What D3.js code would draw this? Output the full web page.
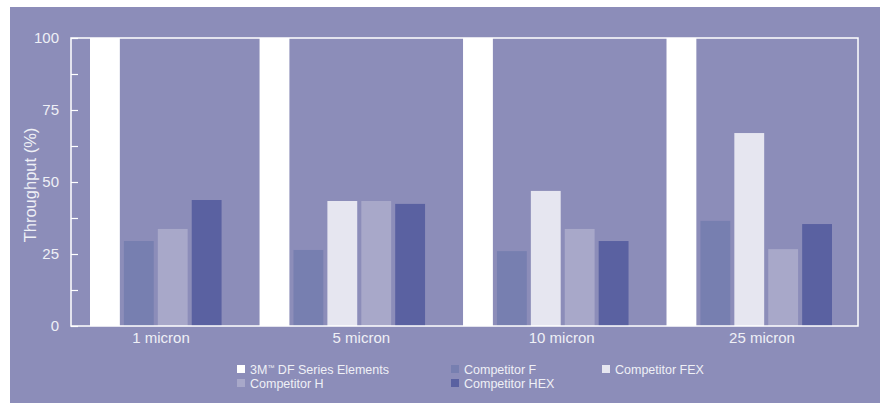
<!DOCTYPE html>
<html>
<head>
<meta charset="utf-8">
<script src="https://cdn.jsdelivr.net/npm/d3@7"></script>
<style>
    body { margin: 0; background: #fff; }
    text { font-family: "Liberation Sans", Arial, sans-serif; fill: #eff0f6; }
</style>
</head>
<body>
<div id="chart"></div>
<script>
// chart data
const groups = ["1 micron", "5 micron", "10 micron", "25 micron"];
const seriesNames = ["3M\u2122 DF Series Elements", "Competitor F", "Competitor FEX", "Competitor H", "Competitor HEX"];
const dfValues = [100, 100, 100, 100];
const fValues = [29.5, 26.4, 26.0, 36.5];
const fexValues = [null, 43.4, 46.9, 67.0];   // no FEX bar at 1 micron
const hValues = [33.7, 43.4, 33.7, 26.7];
const hexValues = [43.75, 42.4, 29.5, 35.4];
const yTicks = [0, 25, 50, 75, 100];

const seriesColors = ["#ffffff", "#777fb0", "#e6e6f0", "#a8a8c9", "#5a61a1"];
const seriesValues = [dfValues, fValues, fexValues, hValues, hexValues];

const W = 882, H = 403;
const plot = { left: 71, right: 858, top: 38, bottom: 326 };

const svg = d3.select("#chart").append("svg")
    .attr("width", W)
    .attr("height", H);

// background panel
svg.append("rect")
    .attr("x", 10).attr("y", 7)
    .attr("width", 870).attr("height", H - 7)
    .attr("fill", "#8c8db9");

// flatten bars, one spacer slot between groups
var bars = [];
var keys = [];
groups.forEach((g, gi) => {
    if (gi > 0) keys.push("gap" + gi);
    seriesValues.forEach((vals, si) => {
        if (vals[gi] == null) return;
        var k = g + "|" + si;
        keys.push(k);
        bars.push({ key: k, group: g, series: si, value: vals[gi] });
    });
});

var x = d3.scaleBand()
    .domain(keys)
    .range([90, 832])
    .paddingInner(0.12);

var y = d3.scaleLinear()
    .domain([0, 100])
    .range([plot.bottom, plot.top]);

// group label positions
var xLabel = d3.scalePoint()
    .domain(groups)
    .range([161, 762]);

svg.append("g").selectAll("rect")
    .data(bars)
    .join("rect")
    .attr("x", d => x(d.key))
    .attr("width", x.bandwidth())
    .attr("y", d => y(d.value))
    .attr("height", d => y(0) - y(d.value))
    .attr("fill", d => seriesColors[d.series]);

// frame
svg.append("rect")
    .attr("x", plot.left).attr("y", plot.top)
    .attr("width", plot.right - plot.left)
    .attr("height", plot.bottom - plot.top)
    .attr("fill", "none")
    .attr("stroke", "#ffffff")
    .attr("stroke-width", 1.5);

// y axis, minor ticks between labels
var minor = d3.range(0, 101, 12.5);
var yAxis = svg.append("g")
    .attr("transform", "translate(" + plot.left + ",0)")
    .call(d3.axisLeft(y)
        .tickValues(minor)
        .tickSize(-7)
        .tickPadding(12)
        .tickFormat(d => yTicks.includes(d) ? d : ""));
yAxis.select(".domain").remove();
yAxis.selectAll("line").attr("stroke", "#ffffff").attr("stroke-width", 1.2);
yAxis.selectAll("text")
    .style("font-size", "15px")
    .attr("fill", "#eff0f6");

// y label
svg.append("text")
    .attr("transform", "translate(36," + ((plot.top + plot.bottom) / 2 + 3) + ") rotate(-90)")
    .attr("text-anchor", "middle")
    .style("font-size", "16.5px")
    .text("Throughput (%)");

// x labels
svg.append("g").selectAll("text")
    .data(groups)
    .join("text")
    .attr("x", d => xLabel(d))
    .attr("y", 343)
    .attr("text-anchor", "middle")
    .style("font-size", "15px")
    .text(d => d);

// legend
var legendCols = [237, 451, 602];
var legend = svg.append("g").selectAll("g")
    .data(seriesNames)
    .join("g")
    .attr("transform", (d, i) => "translate(" + legendCols[i % 3] + "," + (365 + Math.floor(i / 3) * 14) + ")");

legend.append("rect")
    .attr("width", 8).attr("height", 8)
    .attr("fill", (d, i) => seriesColors[i]);

legend.append("text")
    .attr("x", 13)
    .attr("y", 8.5)
    .style("font-size", "12.5px")
    .each(function (d) {
        var t = d3.select(this);
        var parts = d.split("\u2122");
        if (parts.length === 1) { t.text(d); return; }
        t.append("tspan").text(parts[0]);
        t.append("tspan").attr("dy", -4).style("font-size", "7px").text("\u2122");
        t.append("tspan").attr("dy", 4).text(parts[1]);
    });
</script>
</body>
</html>
